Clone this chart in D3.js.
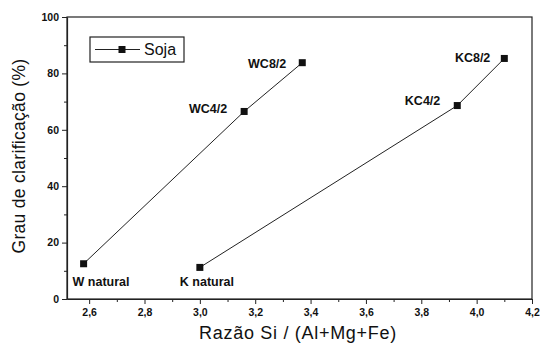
<!DOCTYPE html>
<html>
<head>
<meta charset="utf-8">
<script src="https://cdn.jsdelivr.net/npm/d3@7"></script>
<style>
  body { margin: 0; background: #fff; }
  text { font-family: "Liberation Sans", Arial, sans-serif; fill: #111; }
</style>
</head>
<body>
<div id="chart"></div>
<script>
// chart size
const width = 540;
const height = 352;
const margin = { top: 17, right: 8, bottom: 53, left: 67 };

// data
const wLabels = ["W natural", "WC4/2", "WC8/2"];
const wRatio = [2.58, 3.16, 3.37];
const wClar = [12.5, 66.5, 83.8];

const kLabels = ["K natural", "KC4/2", "KC8/2"];
const kRatio = [3.0, 3.93, 4.1];
const kClar = [11.2, 68.6, 85.3];

const xTicks = [2.6, 2.8, 3.0, 3.2, 3.4, 3.6, 3.8, 4.0, 4.2];
const yTicks = [0, 20, 40, 60, 80, 100];

const series = [
  wLabels.map((l, i) => ({ label: l, x: wRatio[i], y: wClar[i] })),
  kLabels.map((l, i) => ({ label: l, x: kRatio[i], y: kClar[i] })),
];

const x = d3.scaleLinear().domain([2.52, 4.2]).range([margin.left, width - margin.right]);
const y = d3.scaleLinear().domain([0, 100]).range([height - margin.bottom, margin.top]);

const svg = d3.select("#chart").append("svg")
  .attr("width", width)
  .attr("height", height);

// frame
svg.append("rect")
  .attr("x", margin.left)
  .attr("y", margin.top)
  .attr("width", width - margin.left - margin.right)
  .attr("height", height - margin.top - margin.bottom)
  .attr("fill", "none")
  .attr("stroke", "#222")
  .attr("stroke-width", 1.2);

// minor ticks
const xMinor = d3.range(2.6, 4.2, 0.2).map((v) => +(v + 0.1).toFixed(2));
svg.append("g")
  .attr("transform", `translate(0,${y(0)})`)
  .call(d3.axisBottom(x).tickValues(xMinor).tickSize(3).tickFormat(""))
  .call((g) => g.select(".domain").remove());
const yMinor = d3.range(10, 100, 20);
svg.append("g")
  .attr("transform", `translate(${margin.left},0)`)
  .call(d3.axisLeft(y).tickValues(yMinor).tickSize(3).tickFormat(""))
  .call((g) => g.select(".domain").remove());

// major axes
const fmt = (d) => d.toFixed(1).replace(".", ",");
svg.append("g")
  .attr("transform", `translate(0,${y(0)})`)
  .call(d3.axisBottom(x).tickValues(xTicks).tickSize(5).tickSizeOuter(0).tickFormat(fmt))
  .call((g) => g.selectAll("text").style("font-size", "10.5px").style("font-weight", "bold").attr("dy", "0.9em"));

svg.append("g")
  .attr("transform", `translate(${margin.left},0)`)
  .call(d3.axisLeft(y).tickValues(yTicks).tickSize(5).tickSizeOuter(0))
  .call((g) => g.selectAll("text").style("font-size", "10.5px").style("font-weight", "bold"));

svg.selectAll(".domain").attr("stroke", "#222").attr("stroke-width", 1.2);
svg.selectAll(".tick line").attr("stroke", "#222");

// lines and markers
const line = d3.line().x((d) => x(d.x)).y((d) => y(d.y));
series.forEach((s) => {
  svg.append("path")
    .datum(s)
    .attr("d", line)
    .attr("fill", "none")
    .attr("stroke", "#222")
    .attr("stroke-width", 1);

  svg.selectAll(null)
    .data(s)
    .enter()
    .append("rect")
    .attr("x", (d) => x(d.x) - 3.5)
    .attr("y", (d) => y(d.y) - 3.5)
    .attr("width", 7)
    .attr("height", 7)
    .attr("fill", "#111");
});

// point labels (offset from the marker)
const labelPos = {
  "W natural": [-11, 22, "start"],
  "WC4/2": [-17, 2, "end"],
  "WC8/2": [-16, 5, "end"],
  "K natural": [-20, 19, "start"],
  "KC4/2": [-17, -1, "end"],
  "KC8/2": [-14, 4, "end"],
};
series.flat().forEach((d) => {
  const p = labelPos[d.label];
  svg.append("text")
    .attr("x", x(d.x) + p[0])
    .attr("y", y(d.y) + p[1])
    .attr("text-anchor", p[2])
    .style("font-size", "12.5px")
    .style("font-weight", "bold")
    .text(d.label);
});

// legend
const lg = svg.append("g").attr("transform", "translate(90,37)");
lg.append("rect")
  .attr("width", 94)
  .attr("height", 25)
  .attr("fill", "none")
  .attr("stroke", "#222")
  .attr("stroke-width", 1.2);
lg.append("line")
  .attr("x1", 5).attr("x2", 50)
  .attr("y1", 12.5).attr("y2", 12.5)
  .attr("stroke", "#222");
lg.append("rect")
  .attr("x", 28.5).attr("y", 9)
  .attr("width", 7).attr("height", 7)
  .attr("fill", "#111");
lg.append("text")
  .attr("x", 54).attr("y", 18)
  .style("font-size", "16px")
  .text("Soja");

// axis titles
svg.append("text")
  .attr("x", 298)
  .attr("y", 339)
  .attr("text-anchor", "middle")
  .style("font-size", "18px")
  .style("letter-spacing", "0.7px")
  .text("Razão Si / (Al+Mg+Fe)");

svg.append("text")
  .attr("transform", "translate(25,156) rotate(-90)")
  .attr("text-anchor", "middle")
  .style("font-size", "17.5px")
  .style("letter-spacing", "0.3px")
  .text("Grau de clarificação (%)");
</script>
</body>
</html>
